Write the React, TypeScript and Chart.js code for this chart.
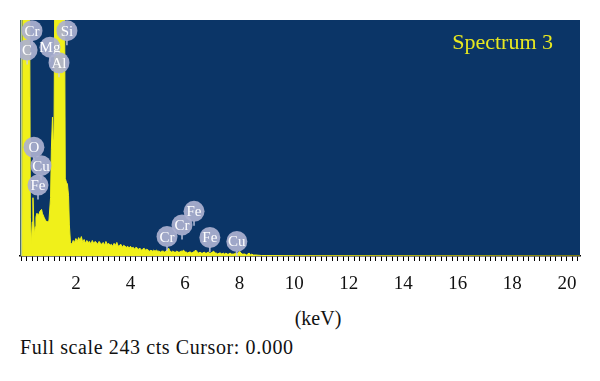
import React, { useEffect, useRef } from "react";
import { Chart, registerables } from "chart.js";

Chart.register(...registerables);

// ---- Data (energy in keV, intensity in counts) ----
const spectrumEnergy = [
  0.04, 0.06, 0.30, 0.33, 0.37, 0.40, 0.425, 0.45, 0.48, 0.51, 0.535, 0.57, 0.63, 0.68, 0.74, 0.77, 0.83, 0.88, 0.94, 1.01,
  1.07, 1.10, 1.14, 1.17, 1.19, 1.23, 1.58, 1.61, 1.65, 1.69, 1.73, 1.76, 1.80,
  1.85, 1.90, 1.95, 2.00, 2.05, 2.10, 2.15, 2.20, 2.25, 2.30, 2.35, 2.40, 2.45, 2.50, 2.55, 2.60, 2.65, 2.70, 2.75, 2.80,
  2.85, 2.90, 2.95, 3.00, 3.05, 3.10, 3.15, 3.20, 3.25, 3.30, 3.35, 3.40, 3.45, 3.50, 3.55, 3.60, 3.65, 3.70, 3.75, 3.80,
  3.85, 3.90, 3.95, 4.00, 4.05, 4.10, 4.15, 4.20, 4.25, 4.30, 4.35, 4.40, 4.45, 4.50, 4.55, 4.60, 4.65, 4.70, 4.75, 4.80,
  4.85, 4.90, 4.95, 5.00, 5.05, 5.10, 5.15, 5.20, 5.25, 5.30, 5.35, 5.40, 5.45, 5.50, 5.55, 5.60, 5.65, 5.70, 5.75, 5.80,
  5.85, 5.90, 5.95, 6.00, 6.05, 6.10, 6.15, 6.20, 6.25, 6.30, 6.35, 6.40, 6.45, 6.50, 6.55, 6.60, 6.65, 6.70, 6.75, 6.80,
  6.85, 6.90, 6.95, 7.00, 7.05, 7.10, 7.15, 7.20, 7.25, 7.30, 7.35, 7.40, 7.45, 7.50, 7.55, 7.60, 7.65, 7.70, 7.75, 7.80,
  7.85, 7.90, 7.95, 8.00, 8.05, 8.10, 8.15, 8.20, 8.25, 8.30, 8.35, 8.40, 8.45, 8.50, 8.60, 8.80, 9.00, 10.0, 20.48,
];
const spectrumCounts = [
  0, 300, 300, 40, 12, 35, 60, 38, 22, 30, 40, 44, 42, 46, 48, 44, 40, 37, 35, 36,
  60, 110, 143, 120, 90, 300, 300, 80, 76, 74, 62, 32, 14,
  12, 16, 14, 18, 15, 19, 16, 20, 14, 17, 13, 16, 14, 15, 12, 16, 13, 15, 14, 12,
  15, 13, 12, 14, 11, 15, 12, 13, 11, 12, 10, 13, 11, 14, 10, 11, 12, 9, 11, 10,
  9, 10, 8, 10, 8, 9, 7, 9, 8, 7, 8, 6, 7, 8, 6, 7, 6, 5, 6, 5,
  6, 5, 6, 5, 5, 4, 5, 5, 4, 5, 6, 8, 5, 4, 5, 4, 4, 5, 4, 4,
  5, 5, 6, 4, 4, 3, 4, 4, 3, 4, 5, 6, 4, 3, 4, 3, 3, 4, 3, 3,
  4, 3, 3, 4, 5, 3, 3, 2, 3, 3, 2, 3, 2, 3, 2, 2, 3, 2, 2, 2,
  3, 2, 3, 5, 3, 2, 2, 2, 1, 2, 3, 1, 2, 1, 1, 0.5, 0.5, 0.3, 0,
];

// zero-energy strobe line at the left edge
const strobeEnergy = [0, 0];
const strobeCounts = [0, 300];

// element markers
const markerNames = ["Cr", "C", "Mg", "Si", "Al", "O", "Cu", "Fe", "Cr", "Cr", "Fe", "Fe", "Cu"];
const markerEnergy = [0.39, 0.21, 1.05, 1.67, 1.38, 0.46, 0.72, 0.61, 5.34, 5.89, 6.33, 6.91, 7.90];
const markerCounts = [232, 212, 215, 232, 199, 112, 93, 73, 20, 32, 46, 19, 15];

const majorTickLabels = [2, 4, 6, 8, 10, 12, 14, 16, 18, 20];
const fullScaleCounts = 243;
const spectrumTitle = "Spectrum 3";

const SERIF = '"Liberation Serif", "DejaVu Serif", serif';
const PLOT_BG = "#0b3567";
const YELLOW = "#f0f01a";

const plotPlugin = {
  id: "plotDecor",
  beforeDraw(chart: any) {
    const { ctx, chartArea } = chart;
    ctx.save();
    ctx.fillStyle = PLOT_BG;
    ctx.fillRect(chartArea.left, chartArea.top, chartArea.right - chartArea.left, chartArea.bottom - chartArea.top);
    ctx.restore();
  },
  afterDatasetsDraw(chart: any) {
    const { ctx, chartArea, scales } = chart;
    ctx.save();
    ctx.beginPath();
    ctx.rect(chartArea.left, chartArea.top, chartArea.right - chartArea.left, chartArea.bottom - chartArea.top);
    ctx.clip();
    const r = 10.5;
    markerNames.forEach((name, i) => {
      const cx = scales.x.getPixelForValue(markerEnergy[i]);
      const cy = scales.y.getPixelForValue(markerCounts[i]);
      ctx.strokeStyle = "rgba(200,205,230,0.9)";
      ctx.lineWidth = 1.5;
      ctx.beginPath();
      ctx.moveTo(cx, cy + r - 1);
      ctx.lineTo(cx, cy + r + 4);
      ctx.stroke();
      ctx.fillStyle = "rgba(172,177,208,0.92)";
      ctx.beginPath();
      ctx.arc(cx, cy, r, 0, Math.PI * 2);
      ctx.fill();
      ctx.fillStyle = "#ffffff";
      ctx.font = `15px ${SERIF}`;
      ctx.textAlign = "center";
      ctx.textBaseline = "middle";
      ctx.fillText(name, cx, cy + 1);
    });
    ctx.fillStyle = "#e8e820";
    ctx.font = `22px ${SERIF}`;
    ctx.textAlign = "right";
    ctx.textBaseline = "middle";
    ctx.fillText(spectrumTitle, chartArea.right - 27, chartArea.top + 23);
    ctx.restore();
  },
};

function App() {
  const canvasRef = useRef<HTMLCanvasElement | null>(null);

  useEffect(() => {
    const canvas = canvasRef.current;
    if (!canvas) return;
    const minorTicks: number[] = [];
    for (let i = 0; i <= 102; i++) minorTicks.push(Math.round(i * 2) / 10);

    const chart = new Chart(canvas, {
      type: "line",
      data: {
        datasets: [
          {
            label: "strobe",
            data: strobeEnergy.map((x, i) => ({ x, y: strobeCounts[i] })),
            borderColor: "#b9cc8c",
            borderWidth: 1.5,
            pointRadius: 0,
            fill: false,
          },
          {
            label: spectrumTitle,
            data: spectrumEnergy.map((x, i) => ({ x, y: spectrumCounts[i] })),
            borderColor: YELLOW,
            backgroundColor: YELLOW,
            borderWidth: 1,
            pointRadius: 0,
            tension: 0,
            fill: "origin",
          },
        ],
      },
      options: {
        animation: false,
        responsive: false,
        maintainAspectRatio: false,
        layout: { padding: { left: 20, right: 20, top: 20, bottom: 0 } },
        plugins: { legend: { display: false }, tooltip: { enabled: false }, title: { display: false } },
        scales: {
          x: {
            type: "linear",
            min: -0.05,
            max: 20.48,
            afterBuildTicks(scale: any) {
              scale.ticks = minorTicks.map((v) => ({ value: v }));
            },
            afterFit(scale: any) {
              scale.height = 50;
            },
            grid: {
              display: true,
              drawOnChartArea: false,
              drawTicks: true,
              tickLength: 5,
              color: "#000000",
              lineWidth: 1,
            },
            border: { display: true, color: "#000000", width: 1.5 },
            ticks: {
              autoSkip: false,
              maxRotation: 0,
              minRotation: 0,
              padding: 12,
              color: "#111111",
              font: { family: SERIF, size: 19 },
              callback(value: any) {
                const v = Math.round(Number(value) * 10) / 10;
                return majorTickLabels.includes(v) ? String(v) : "";
              },
            },
          },
          y: {
            display: false,
            min: 0,
            max: fullScaleCounts,
          },
        },
      },
      plugins: [plotPlugin],
    });
    return () => chart.destroy();
  }, []);

  return (
    <div style={{ position: "absolute", left: 0, top: 0, width: 600, height: 381, background: "#fff", fontFamily: SERIF }}>
      <canvas ref={canvasRef} width={600} height={306} style={{ display: "block", width: 600, height: 306 }} />
      <div
        style={{
          position: "absolute",
          left: 318,
          top: 307,
          transform: "translateX(-50%)",
          fontSize: 20,
          lineHeight: "22px",
          color: "#111",
          whiteSpace: "nowrap",
        }}
      >
        (keV)
      </div>
      <div
        style={{
          position: "absolute",
          left: 20,
          top: 336,
          fontSize: 20,
          lineHeight: "22px",
          letterSpacing: "0.6px",
          color: "#111",
          whiteSpace: "nowrap",
        }}
      >
        {`Full scale ${fullScaleCounts} cts Cursor: 0.000`}
      </div>
    </div>
  );
}

export default App;
